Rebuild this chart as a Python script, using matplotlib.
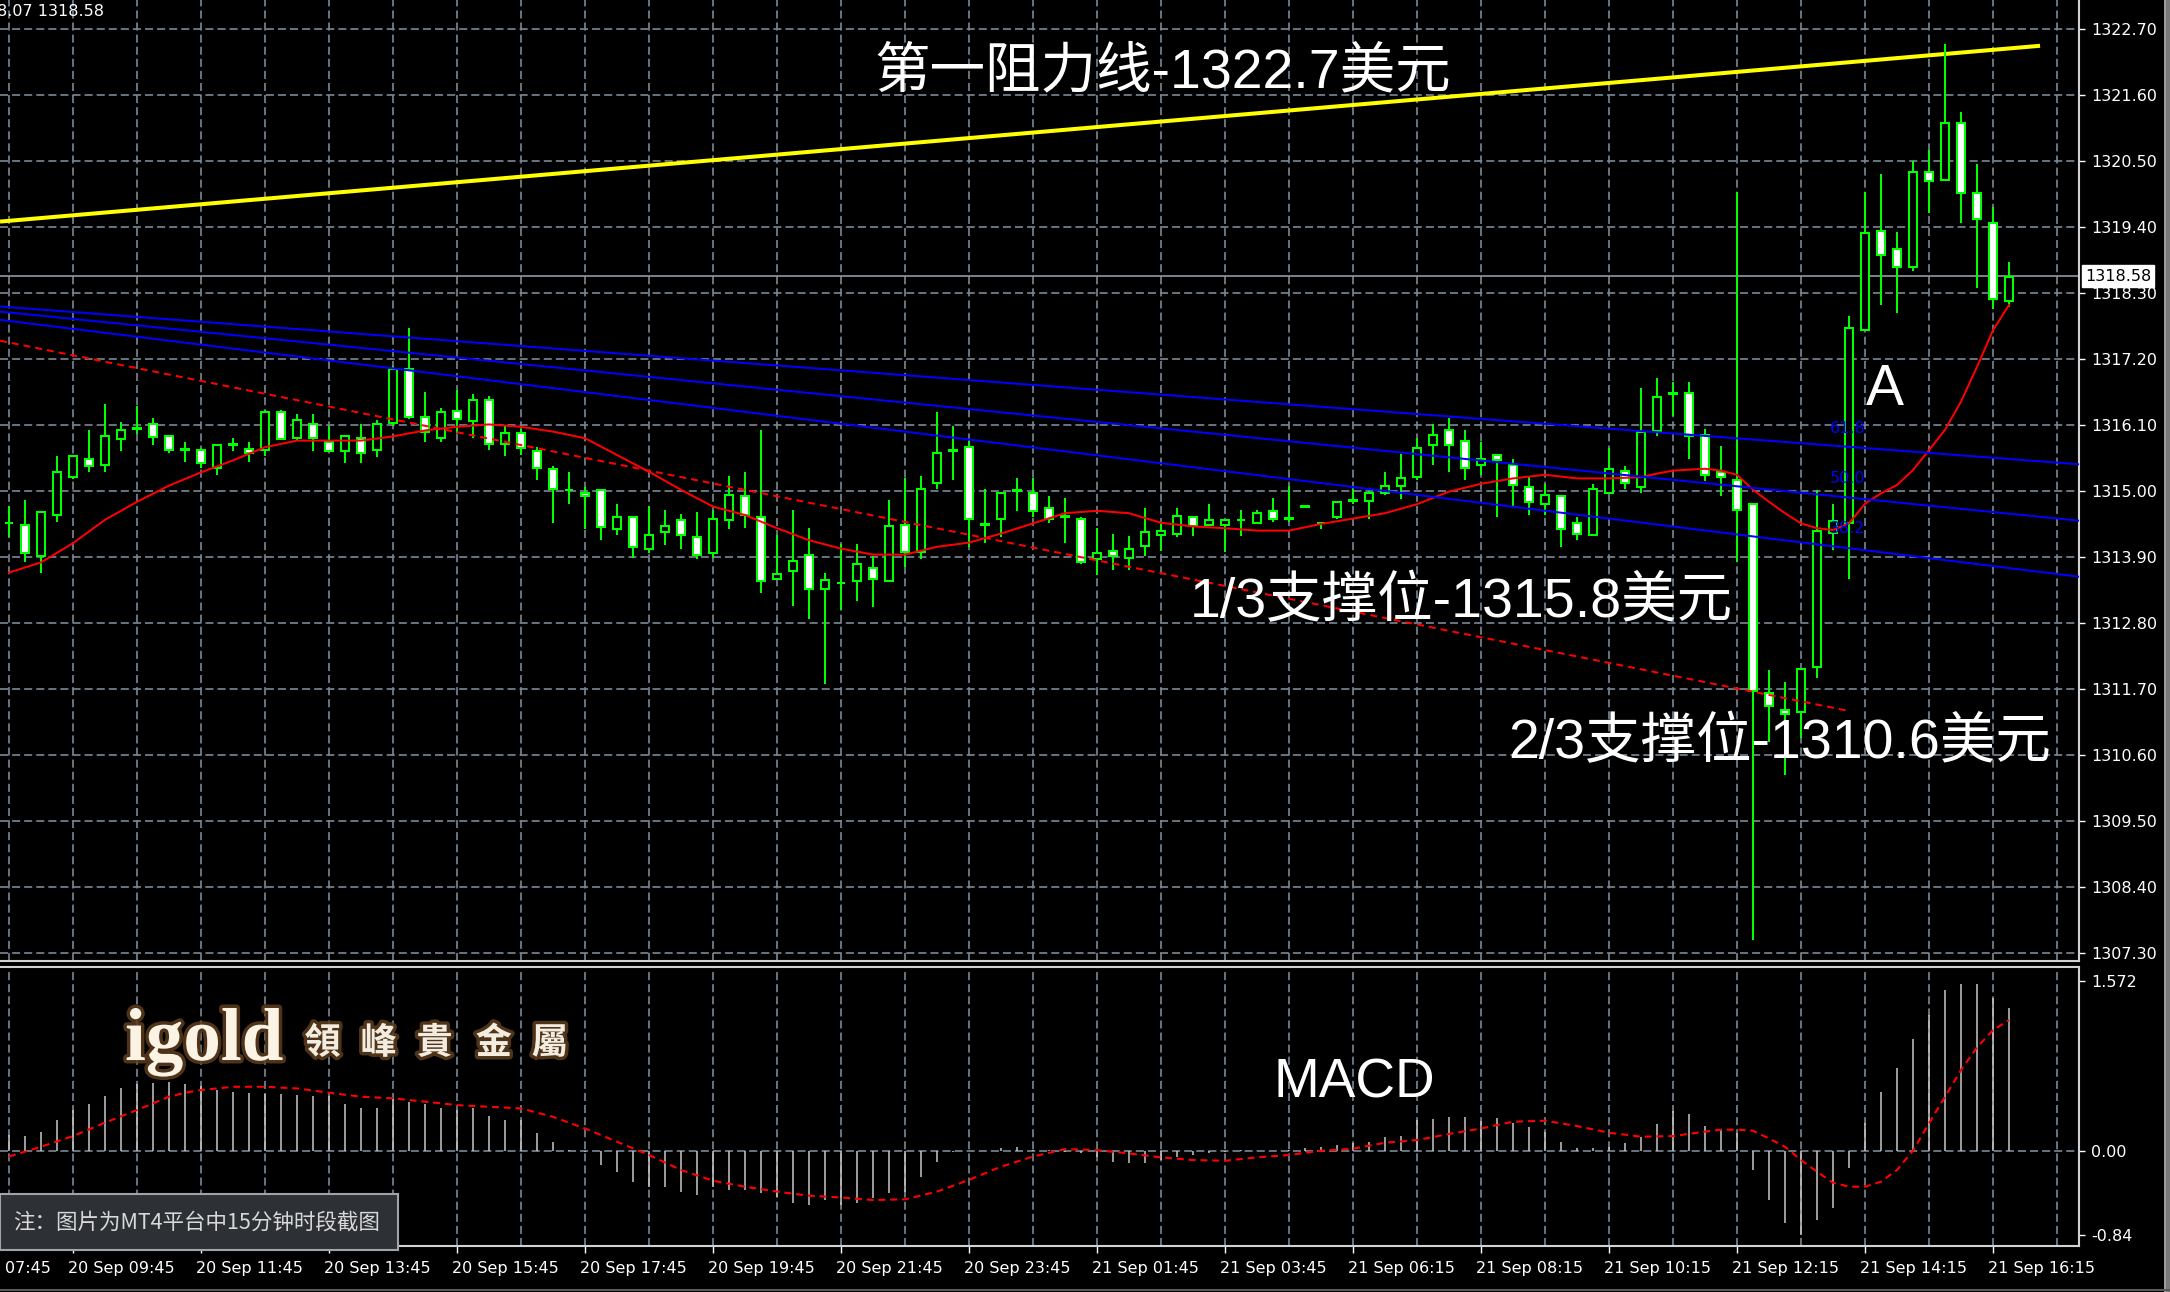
import numpy as np
import matplotlib
matplotlib.use("Agg")
import matplotlib.pyplot as plt
from matplotlib import patheffects, transforms
from matplotlib.patches import Rectangle
from matplotlib.lines import Line2D

plt.rcParams['font.family'] = ['DejaVu Sans', 'Noto Sans CJK SC']
plt.rcParams['lines.scale_dashes'] = False

# --- 15 dakikalik mumlar (OHLC) ---
opens = [1314.46, 1314.43, 1313.92, 1314.60, 1315.23, 1315.54, 1315.43, 1315.86, 1316.04, 1316.11,
         1315.91, 1315.68, 1315.68, 1315.38, 1315.77, 1315.70, 1315.69, 1316.31, 1315.88, 1316.11,
         1315.81, 1315.66, 1315.88, 1315.69, 1316.13, 1317.03, 1316.24, 1315.89, 1316.34, 1316.17,
         1316.52, 1315.79, 1315.97, 1315.67, 1315.37, 1315.01, 1314.96, 1315.01, 1314.37, 1314.57,
         1314.03, 1314.31, 1314.51, 1314.24, 1313.96, 1314.51, 1314.91, 1314.57, 1313.53, 1313.67,
         1313.94, 1313.37, 1313.46, 1313.50, 1313.71, 1313.50, 1314.44, 1313.99, 1315.14, 1315.66,
         1315.74, 1314.43, 1314.53, 1315.00, 1314.97, 1314.71, 1314.57, 1314.54, 1313.87, 1314.00,
         1313.89, 1314.09, 1314.26, 1314.29, 1314.57, 1314.43, 1314.43, 1314.51, 1314.47, 1314.67,
         1314.53, 1314.74, 1314.46, 1314.56, 1314.84, 1314.83, 1314.97, 1315.09, 1315.23, 1315.76,
         1316.01, 1315.84, 1315.43, 1315.60, 1315.43, 1315.07, 1314.79, 1314.91, 1314.47, 1314.27,
         1314.97, 1315.34, 1315.06, 1316.00, 1316.62, 1316.64, 1315.93, 1315.31, 1315.18, 1314.78,
         1311.64, 1311.35, 1311.31, 1312.07, 1314.30, 1314.47, 1317.69, 1319.34, 1319.04, 1318.73,
         1320.31, 1320.19, 1321.14, 1319.97, 1319.47, 1318.17]
highs = [1314.75, 1314.85, 1314.65, 1315.58, 1315.58, 1316.02, 1316.45, 1316.15, 1316.42, 1316.22,
         1315.91, 1315.82, 1315.71, 1315.77, 1315.88, 1315.81, 1316.35, 1316.35, 1316.28, 1316.28,
         1316.09, 1315.91, 1316.11, 1316.18, 1317.08, 1317.71, 1316.65, 1316.38, 1316.68, 1316.62,
         1316.58, 1316.10, 1316.04, 1315.74, 1315.41, 1315.31, 1315.07, 1315.01, 1314.78, 1314.57,
         1314.75, 1314.68, 1314.62, 1314.65, 1314.68, 1315.25, 1315.32, 1316.01, 1314.27, 1314.68,
         1314.38, 1313.64, 1314.11, 1314.11, 1313.91, 1314.85, 1315.22, 1315.25, 1316.31, 1316.08,
         1315.84, 1315.04, 1314.97, 1315.22, 1315.22, 1314.91, 1314.88, 1314.57, 1314.38, 1314.28,
         1314.25, 1314.72, 1314.45, 1314.72, 1314.57, 1314.78, 1314.51, 1314.68, 1314.68, 1314.88,
         1315.08, 1314.74, 1314.46, 1314.84, 1315.04, 1315.00, 1315.31, 1315.62, 1315.88, 1316.12,
         1316.21, 1316.01, 1315.82, 1315.60, 1315.54, 1315.23, 1315.12, 1314.93, 1314.57, 1315.11,
         1315.71, 1315.42, 1316.71, 1316.88, 1316.82, 1316.82, 1316.04, 1315.75, 1319.99, 1314.80,
         1312.02, 1311.82, 1312.04, 1315.02, 1314.79, 1317.92, 1319.99, 1320.28, 1319.31, 1320.50,
         1320.68, 1322.45, 1321.31, 1320.45, 1319.74, 1318.81]
lows = [1314.24, 1313.82, 1313.63, 1314.49, 1315.20, 1315.32, 1315.32, 1315.66, 1315.95, 1315.76,
        1315.63, 1315.49, 1315.39, 1315.26, 1315.66, 1315.48, 1315.59, 1315.86, 1315.85, 1315.66,
        1315.66, 1315.46, 1315.46, 1315.56, 1316.09, 1316.20, 1315.82, 1315.82, 1315.96, 1315.89,
        1315.69, 1315.59, 1315.60, 1315.19, 1314.46, 1314.79, 1314.36, 1314.19, 1314.26, 1313.89,
        1313.96, 1314.10, 1314.03, 1313.86, 1313.89, 1314.36, 1314.39, 1313.30, 1313.53, 1313.09,
        1312.86, 1311.79, 1313.01, 1313.16, 1313.06, 1313.50, 1313.73, 1313.86, 1315.03, 1315.19,
        1314.07, 1314.13, 1314.23, 1314.66, 1314.56, 1314.46, 1314.13, 1313.79, 1313.60, 1313.69,
        1313.69, 1313.92, 1314.00, 1314.23, 1314.25, 1314.43, 1313.99, 1314.25, 1314.47, 1314.49,
        1314.49, 1314.74, 1314.36, 1314.53, 1314.78, 1314.53, 1314.93, 1314.86, 1315.19, 1315.43,
        1315.32, 1315.19, 1315.27, 1314.56, 1314.75, 1314.60, 1314.60, 1314.06, 1314.19, 1314.27,
        1314.97, 1315.03, 1314.97, 1315.92, 1316.25, 1315.53, 1315.16, 1314.92, 1313.82, 1307.52,
        1310.82, 1310.27, 1310.88, 1311.89, 1314.02, 1313.53, 1317.69, 1318.10, 1317.96, 1318.66,
        1319.63, 1320.16, 1319.46, 1318.39, 1318.04, 1318.07]
closes = [1314.46, 1313.96, 1314.65, 1315.31, 1315.58, 1315.41, 1315.91, 1316.01, 1316.04, 1315.90,
          1315.69, 1315.68, 1315.46, 1315.77, 1315.77, 1315.64, 1316.31, 1315.86, 1316.18, 1315.88,
          1315.66, 1315.91, 1315.63, 1316.11, 1317.04, 1316.23, 1315.99, 1316.31, 1316.20, 1316.52,
          1315.79, 1315.97, 1315.71, 1315.39, 1315.03, 1315.01, 1314.91, 1314.40, 1314.57, 1314.07,
          1314.27, 1314.41, 1314.27, 1313.93, 1314.54, 1314.94, 1314.60, 1313.50, 1313.61, 1313.84,
          1313.37, 1313.51, 1313.46, 1313.78, 1313.53, 1314.41, 1313.99, 1315.04, 1315.64, 1315.66,
          1314.54, 1314.43, 1314.97, 1315.00, 1314.67, 1314.54, 1314.57, 1313.82, 1313.97, 1313.91,
          1314.04, 1314.31, 1314.34, 1314.58, 1314.41, 1314.51, 1314.51, 1314.51, 1314.64, 1314.53,
          1314.53, 1314.74, 1314.46, 1314.81, 1314.84, 1314.97, 1315.09, 1315.21, 1315.71, 1315.94,
          1315.77, 1315.39, 1315.54, 1315.51, 1315.10, 1314.81, 1314.93, 1314.37, 1314.29, 1315.04,
          1315.37, 1315.14, 1315.98, 1316.57, 1316.62, 1315.91, 1315.27, 1315.23, 1314.69, 1311.67,
          1311.41, 1311.28, 1312.04, 1314.34, 1314.50, 1317.71, 1319.30, 1318.93, 1318.74, 1320.31,
          1320.17, 1321.14, 1319.97, 1319.53, 1318.20, 1318.57]

# kirmizi hareketli ortalama (duz cizgi)
ma_bars = [0, 2, 4, 6, 8, 10, 12, 14, 16, 18, 20, 22, 24, 26, 28, 30, 32, 34, 36, 38, 40, 42, 44,
           46, 48, 50, 52, 54, 56, 58, 60, 62, 64, 66, 68, 70, 72, 74, 76, 78, 80, 82, 84, 86, 88,
           90, 92, 94, 96, 98, 100, 102, 103, 104, 106, 107, 108, 109, 110, 111, 112, 113, 114,
           115, 116, 117, 118, 119, 120, 121, 122, 123, 124, 125]
ma_vals = [1313.64, 1313.81, 1314.13, 1314.52, 1314.82, 1315.09, 1315.31, 1315.51, 1315.73, 1315.84,
           1315.84, 1315.84, 1315.91, 1316.01, 1316.07, 1316.11, 1316.07, 1315.99, 1315.88, 1315.60,
           1315.32, 1315.02, 1314.74, 1314.60, 1314.38, 1314.18, 1314.04, 1313.94, 1313.94, 1314.07,
           1314.14, 1314.29, 1314.46, 1314.63, 1314.67, 1314.63, 1314.47, 1314.41, 1314.38, 1314.34,
           1314.34, 1314.45, 1314.54, 1314.63, 1314.78, 1314.99, 1315.12, 1315.21, 1315.27, 1315.21,
           1315.21, 1315.23, 1315.29, 1315.34, 1315.37, 1315.34, 1315.27, 1315.02, 1314.82, 1314.63,
           1314.46, 1314.38, 1314.35, 1314.46, 1314.79, 1314.96, 1315.10, 1315.35, 1315.68, 1316.02,
           1316.49, 1317.07, 1317.68, 1318.10]

# cizilmis trend cizgileri (baslangic / bitis)
yellow_x = [-0.56, 126.94]
yellow_y = [1319.49, 1322.42]
red_trend_x = [-0.56, 114.9]
red_trend_y = [1317.505, 1311.34]
fan_x = [-0.56, 129.38]
fan_618 = [1318.075, 1315.445]
fan_500 = [1317.99, 1314.505]
fan_382 = [1317.853, 1313.572]
fib_labels = ['61.8', '50.0', '38.2']
fib_label_prices = [1315.97, 1315.13, 1314.30]

last_price = 1318.58

price_ticks = [1322.70, 1321.60, 1320.50, 1319.40, 1318.30, 1317.20, 1316.10,
               1315.00, 1313.90, 1312.80, 1311.70, 1310.60, 1309.50, 1308.40, 1307.30]
price_labels = ['1322.70', '1321.60', '1320.50', '1319.40', '1318.30', '1317.20', '1316.10',
                '1315.00', '1313.90', '1312.80', '1311.70', '1310.60', '1309.50', '1308.40', '1307.30']

# ilk etiket resimde kesik gorunuyor, sadece saat kismi
time_bars = [0.06, 4, 12, 20, 28, 36, 44, 52, 60, 68, 76, 84, 92, 100, 108, 116, 124]
time_labels = ['07:45', '20 Sep 09:45', '20 Sep 11:45', '20 Sep 13:45', '20 Sep 15:45',
               '20 Sep 17:45', '20 Sep 19:45', '20 Sep 21:45', '20 Sep 23:45', '21 Sep 01:45',
               '21 Sep 03:45', '21 Sep 06:15', '21 Sep 08:15', '21 Sep 10:15', '21 Sep 12:15',
               '21 Sep 14:15', '21 Sep 16:15']

# MACD histogram ve sinyal cizgisi
macd_hist = [0.134, 0.126, 0.163, 0.263, 0.348, 0.40, 0.468, 0.534, 0.57, 0.582,
             0.588, 0.57, 0.553, 0.519, 0.502, 0.497, 0.485, 0.485, 0.476, 0.468,
             0.468, 0.40, 0.362, 0.362, 0.44, 0.42, 0.40, 0.362, 0.348, 0.362,
             0.297, 0.263, 0.263, 0.154, 0.077, 0.005, -0.01, -0.122, -0.18, -0.265,
             -0.313, -0.313, -0.35, -0.379, -0.308, -0.336, -0.336, -0.365, -0.393, -0.45,
             -0.464, -0.422, -0.464, -0.45, -0.407, -0.365, -0.35, -0.222, -0.094, -0.01,
             0.0, 0.0, 0.02, 0.03, 0.01, 0.005, -0.01, -0.02, -0.05, -0.094,
             -0.108, -0.108, -0.08, -0.05, -0.037, -0.023, -0.01, 0.005, 0.0, 0.0,
             0.01, 0.02, 0.034, 0.048, 0.068, 0.077, 0.114, 0.125, 0.262, 0.268,
             0.285, 0.285, 0.257, 0.277, 0.234, 0.20, 0.163, 0.077, 0.02, 0.02,
             0.034, 0.063, 0.12, 0.228, 0.342, 0.314, 0.211, 0.177, 0.148, -0.165,
             -0.422, -0.62, -0.72, -0.593, -0.493, -0.151, 0.234, 0.505, 0.704, 0.96,
             1.16, 1.374, 1.426, 1.426, 1.303, 1.218]
sig_bars = [0, 2, 4, 6, 8, 10, 11, 12, 14, 16, 18, 20, 22, 24, 26, 28, 30, 32, 34, 36, 38, 40,
            42, 44, 46, 48, 50, 52, 54, 56, 58, 60, 62, 64, 66, 68, 70, 72, 74, 76, 78, 80, 82,
            84, 86, 88, 90, 92, 94, 96, 98, 100, 102, 104, 106, 107, 108, 109, 110, 111, 112,
            113, 114, 115, 116, 117, 118, 119, 120, 121, 122, 123, 124, 125]
sig_vals = [-0.05, 0.034, 0.125, 0.24, 0.348, 0.462, 0.496, 0.519, 0.547, 0.547, 0.533, 0.496,
            0.462, 0.448, 0.42, 0.39, 0.376, 0.362, 0.29, 0.19, 0.077, -0.037, -0.165, -0.257,
            -0.308, -0.35, -0.385, -0.40, -0.422, -0.416, -0.35, -0.25, -0.137, -0.05, 0.014,
            0.005, -0.023, -0.057, -0.08, -0.086, -0.057, -0.037, 0.0, 0.017, 0.068, 0.091,
            0.143, 0.19, 0.248, 0.257, 0.211, 0.154, 0.12, 0.125, 0.163, 0.18, 0.18, 0.171,
            0.105, 0.034, -0.08, -0.18, -0.274, -0.308, -0.308, -0.265, -0.165, 0.0, 0.234,
            0.462, 0.69, 0.884, 1.032, 1.118]
macd_tick_pos = [1.452, 0.0, -0.721]
macd_tick_labels = ['1.572', '0.00', '-0.84']

W, H = 2170, 1292
GRID = '#7a8896'
BORDER = '#d2d2d2'
GREEN = '#00ff00'
BIG = ['Liberation Sans', 'Noto Sans CJK SC']
grid_dash = (0, (5.8, 2.9))

fig = plt.figure(figsize=(W / 100, H / 100), dpi=100, facecolor='black')
ax = fig.add_axes([0, 1 - 961 / H, 2079 / W, 961 / H], facecolor='black')
axm = fig.add_axes([0, 1 - 1246 / H, 2079 / W, 279 / H], facecolor='black')

xlim = (-0.5625, 129.375)
ax.set_xlim(*xlim)
ax.set_ylim(1307.167, 1323.183)
axm.set_xlim(*xlim)
axm.set_ylim(-0.8155, 1.572)

# izgara
for b in range(0, 130, 4):
    ax.axvline(b, color=GRID, lw=1.2, ls=grid_dash, zorder=0.5)
    axm.axvline(b, color=GRID, lw=1.2, ls=grid_dash, zorder=0.5)
for p in price_ticks:
    ax.axhline(p, color=GRID, lw=1.2, ls=grid_dash, zorder=0.5)
axm.axhline(0, color=GRID, lw=1.2, ls=grid_dash, zorder=0.5)

# son fiyat cizgisi
ax.axhline(last_price, color='#8f9aa6', lw=1.2, zorder=1)

# sari direnc cizgisi
ax.plot(yellow_x, yellow_y, color='#ffff00', lw=2.9, zorder=1.5, solid_capstyle='butt')

# mumlar
x = np.arange(len(opens))
o = np.array(opens); h = np.array(highs); l = np.array(lows); c = np.array(closes)
up = c >= o
ax.vlines(x, l, h, color=GREEN, lw=1.44, zorder=2)
bottom = np.minimum(o, c)
height = np.maximum(np.abs(c - o), 0.015)
ax.bar(x[up], height[up], bottom=bottom[up], width=0.45, facecolor='black',
       edgecolor=GREEN, lw=1.44, zorder=3)
ax.bar(x[~up], height[~up], bottom=bottom[~up], width=0.45, facecolor='white',
       edgecolor=GREEN, lw=1.44, zorder=3)

# gostergeler ve trend cizgileri
ax.plot(ma_bars, ma_vals, color='#ff0000', lw=1.44, zorder=4)
ax.plot(red_trend_x, red_trend_y, color='#ff0000', lw=1.44, ls=(0, (5, 3.6)), zorder=4)
for fan in (fan_618, fan_500, fan_382):
    ax.plot(fan_x, fan, color='#0000ff', lw=1.44, zorder=4)
for lab, p in zip(fib_labels, fib_label_prices):
    ax.text(113.8, p, lab, color='#0000ff', fontsize=11.5, ha='left', va='baseline', zorder=5)

# buyuk yazilar
ax.text(54.1, 1321.73, '第一阻力线-1322.7美元', fontsize=40, color='white', family=BIG,
        ha='left', va='baseline', zorder=6)
ax.text(73.8, 1312.90, '1/3支撑位-1315.8美元', fontsize=40, color='white', family=BIG,
        ha='left', va='baseline', zorder=6)
ax.text(93.7, 1310.55, '2/3支撑位-1310.6美元', fontsize=40, color='white', family=BIG,
        ha='left', va='baseline', zorder=6)
ax.text(116.06, 1316.43, 'A', fontsize=41, color='white', family=BIG,
        ha='left', va='baseline', zorder=6)

# fiyat ekseni (sag)
ax.yaxis.tick_right()
ax.set_yticks(price_ticks)
ax.set_yticklabels(price_labels)
ax.tick_params(axis='y', colors='white', length=4, width=1, pad=5, labelsize=11.5)
ax.set_xticks([])
ax.text(1.0, last_price, f'{last_price:.2f}',
        transform=transforms.blended_transform_factory(ax.transAxes, ax.transData)
        + transforms.ScaledTranslation(6 / 100, 0, fig.dpi_scale_trans),
        ha='left', va='center', color='black', fontsize=11.5, zorder=10, clip_on=False,
        bbox=dict(boxstyle='square,pad=0.2', fc='white', ec='white'))

for s in ('top', 'left'):
    ax.spines[s].set_visible(False)
for s in ('right', 'bottom'):
    ax.spines[s].set_color(BORDER)
    ax.spines[s].set_linewidth(1.5)

# MACD paneli
axm.vlines(x, 0, macd_hist, color='#c8c8c8', lw=1.1, zorder=2)
axm.plot(sig_bars, sig_vals, color='#ff0000', lw=1.5, ls=(0, (5, 3.5)), zorder=3)
axm.text(79.0, 0.451, 'MACD', fontsize=39.5, color='white', family=BIG,
         ha='left', va='baseline', zorder=6)

glow = [patheffects.withStroke(linewidth=5, foreground='#5c3d1e', alpha=0.85)]
axm.text(7.25, 0.776, 'igold', family='Liberation Serif', weight='bold', fontsize=54,
         color='#fbf3e4', ha='left', va='baseline', path_effects=glow, zorder=6)
logo_chars = '領峰貴金屬'
logo_bars = [19.6, 23.1, 26.6, 30.3, 33.8]
for bx, ch in zip(logo_bars, logo_chars):
    axm.text(bx, 0.921, ch, family=['Noto Sans CJK TC'], weight='bold', fontsize=26,
             color='#f3ece0', ha='center', va='center', path_effects=glow, zorder=6)

axm.yaxis.tick_right()
axm.set_yticks(macd_tick_pos)
axm.set_yticklabels(macd_tick_labels)
axm.tick_params(axis='y', colors='white', length=4, width=1, pad=5, labelsize=11.5)
axm.set_xticks(time_bars[1:])
axm.set_xticklabels([])
axm.tick_params(axis='x', colors='white', length=5, width=1, direction='out')
axm.spines['left'].set_visible(False)
for s in ('right', 'bottom', 'top'):
    axm.spines[s].set_color(BORDER)
    axm.spines[s].set_linewidth(1.5)

tr = (transforms.blended_transform_factory(axm.transData, axm.transAxes)
      + transforms.ScaledTranslation(-5 / 100, 0, fig.dpi_scale_trans))
for b, lab in zip(time_bars, time_labels):
    axm.text(b, -0.079, lab, transform=tr, ha='left', va='center', color='white',
             fontsize=11.5, clip_on=False)

# sol ust kosedeki fiyat bilgisi
fig.text(-3 / W, 1 - 11 / H, '8.07 1318.58', color='white', fontsize=11.5, ha='left', va='center')

# not kutusu
fig.add_artist(Rectangle((0, 1 - 1250 / H), 398 / W, 56 / H, transform=fig.transFigure,
                         facecolor='#2d3136', edgecolor='#a0a4a8', lw=1.5, zorder=20))
fig.text(13 / W, 1 - 1223 / H, '注：图片为MT4平台中15分钟时段截图', color='#d9d9d9',
         fontsize=15.5, ha='left', va='center', family=['Noto Sans CJK SC'], zorder=21)

# sag kenar ve alt cizgi
fig.add_artist(Rectangle((2166 / W, 0), 4 / W, 1, transform=fig.transFigure,
                         facecolor='#7a7a7a', edgecolor='none', zorder=20))
fig.add_artist(Line2D([2165 / W, 2165 / W], [0, 1], transform=fig.transFigure,
                      color='#bdbdbd', lw=1.2, zorder=20))
fig.add_artist(Line2D([0, 1], [1 - 1290 / H, 1 - 1290 / H], transform=fig.transFigure,
                      color='#5a5a5a', lw=1.5, zorder=20))

fig.savefig('out.png', dpi=100, facecolor='black')
